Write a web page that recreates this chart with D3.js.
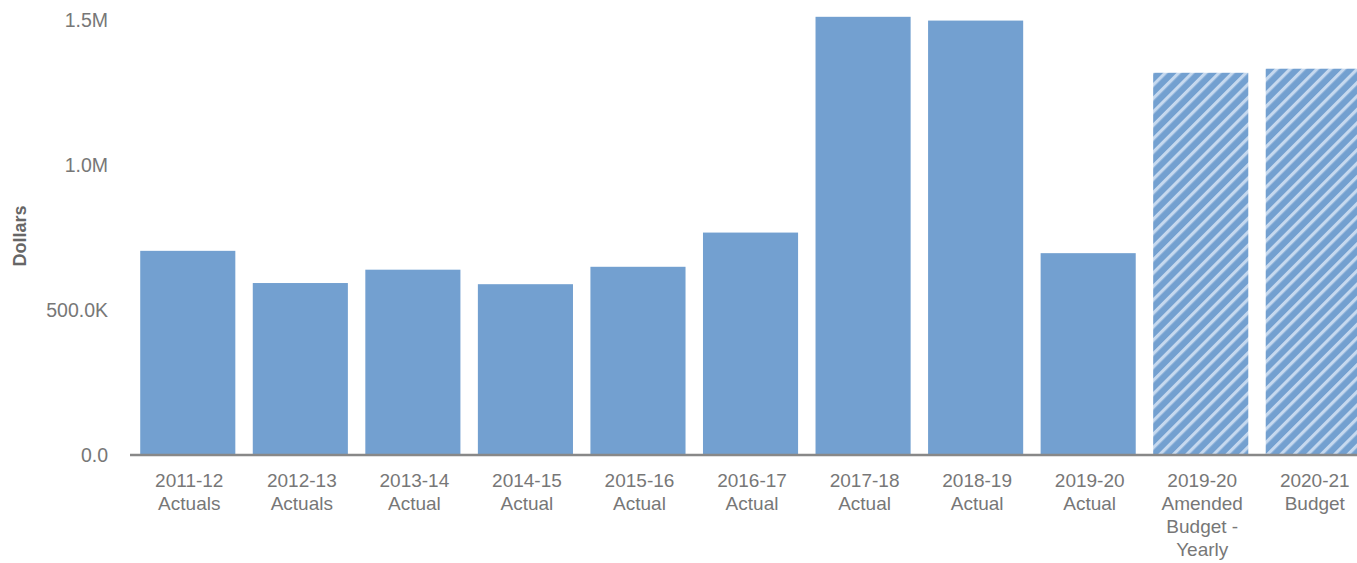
<!DOCTYPE html>
<html>
<head>
<meta charset="utf-8">
<script src="https://cdn.jsdelivr.net/npm/d3@7"></script>
<style>
  html, body { margin: 0; padding: 0; background: #fff; }
  svg { display: block; }
</style>
</head>
<body>
<svg id="chart" width="1357" height="563"></svg>
<script>
const categories = [
  ["2011-12", "Actuals"],
  ["2012-13", "Actuals"],
  ["2013-14", "Actual"],
  ["2014-15", "Actual"],
  ["2015-16", "Actual"],
  ["2016-17", "Actual"],
  ["2017-18", "Actual"],
  ["2018-19", "Actual"],
  ["2019-20", "Actual"],
  ["2019-20", "Amended", "Budget -", "Yearly"],
  ["2020-21", "Budget"]
];
const values = [704000, 593000, 639000, 589000, 649000, 767000, 1511000, 1498000, 696000, 1318000, 1332000];
const budgetFlags = [false, false, false, false, false, false, false, false, false, true, true];
const yTicks = [0, 500000, 1000000, 1500000];
const yTickLabels = ["0.0", "500.0K", "1.0M", "1.5M"];
const yAxisTitle = "Dollars";

const svg = d3.select("#chart");
const barColor = "#73a0d0";
const textColor = "#777";

const defs = svg.append("defs");
const pat = defs.append("pattern")
  .attr("id", "hatch")
  .attr("patternUnits", "userSpaceOnUse")
  .attr("width", 9.5)
  .attr("height", 9.5)
  .attr("patternTransform", "rotate(45)");
pat.append("rect").attr("width", 9.5).attr("height", 9.5).attr("fill", barColor);
pat.append("rect").attr("x", 0).attr("y", 0).attr("width", 3.2).attr("height", 9.5).attr("fill", "#c6d9ef");

const x = d3.scaleBand()
  .domain(d3.range(categories.length))
  .range([131.5, 131.5 + 11 * 112.55])
  .paddingInner(0.155)
  .paddingOuter(0.0775);

const y = d3.scaleLinear().domain([0, 1500000]).range([455, 20]);

// bars
svg.append("g").selectAll("rect")
  .data(values)
  .join("rect")
  .attr("x", (d, i) => x(i))
  .attr("width", x.bandwidth())
  .attr("y", d => y(d))
  .attr("height", d => y(0) - y(d))
  .attr("fill", (d, i) => budgetFlags[i] ? "url(#hatch)" : barColor);

// y axis (labels only)
const yAxis = d3.axisLeft(y)
  .tickValues(yTicks)
  .tickFormat((d, i) => yTickLabels[i])
  .tickSize(0)
  .tickPadding(0);
const gy = svg.append("g").attr("transform", "translate(108,0)").call(yAxis);
gy.select(".domain").remove();
gy.selectAll("text")
  .attr("font-family", "'Liberation Sans', Arial, sans-serif")
  .attr("font-size", 19.5)
  .attr("fill", textColor);

// x axis
const xAxis = d3.axisBottom(x).tickSize(0).tickFormat("");
const gx = svg.append("g").attr("transform", `translate(0,${y(0)})`).call(xAxis);
gx.select(".domain").remove();
svg.append("line")
  .attr("x1", 130).attr("x2", 1357)
  .attr("y1", y(0)).attr("y2", y(0))
  .attr("stroke", "#888").attr("stroke-width", 2.5);

gx.selectAll(".tick").each(function(d) {
  const t = d3.select(this).append("text")
    .attr("text-anchor", "middle")
    .attr("font-family", "'Liberation Sans', Arial, sans-serif")
    .attr("font-size", 19)
    .attr("fill", textColor);
  categories[d].forEach((line, j) => {
    t.append("tspan").attr("x", 1.5).attr("y", 32 + j * 23).text(line);
  });
});

// y title
svg.append("text")
  .attr("transform", `translate(26,236) rotate(-90)`)
  .attr("text-anchor", "middle")
  .attr("font-family", "'Liberation Sans', Arial, sans-serif")
  .attr("font-size", 18)
  .attr("font-weight", "bold")
  .attr("fill", "#666")
  .text(yAxisTitle);
</script>
</body>
</html>
